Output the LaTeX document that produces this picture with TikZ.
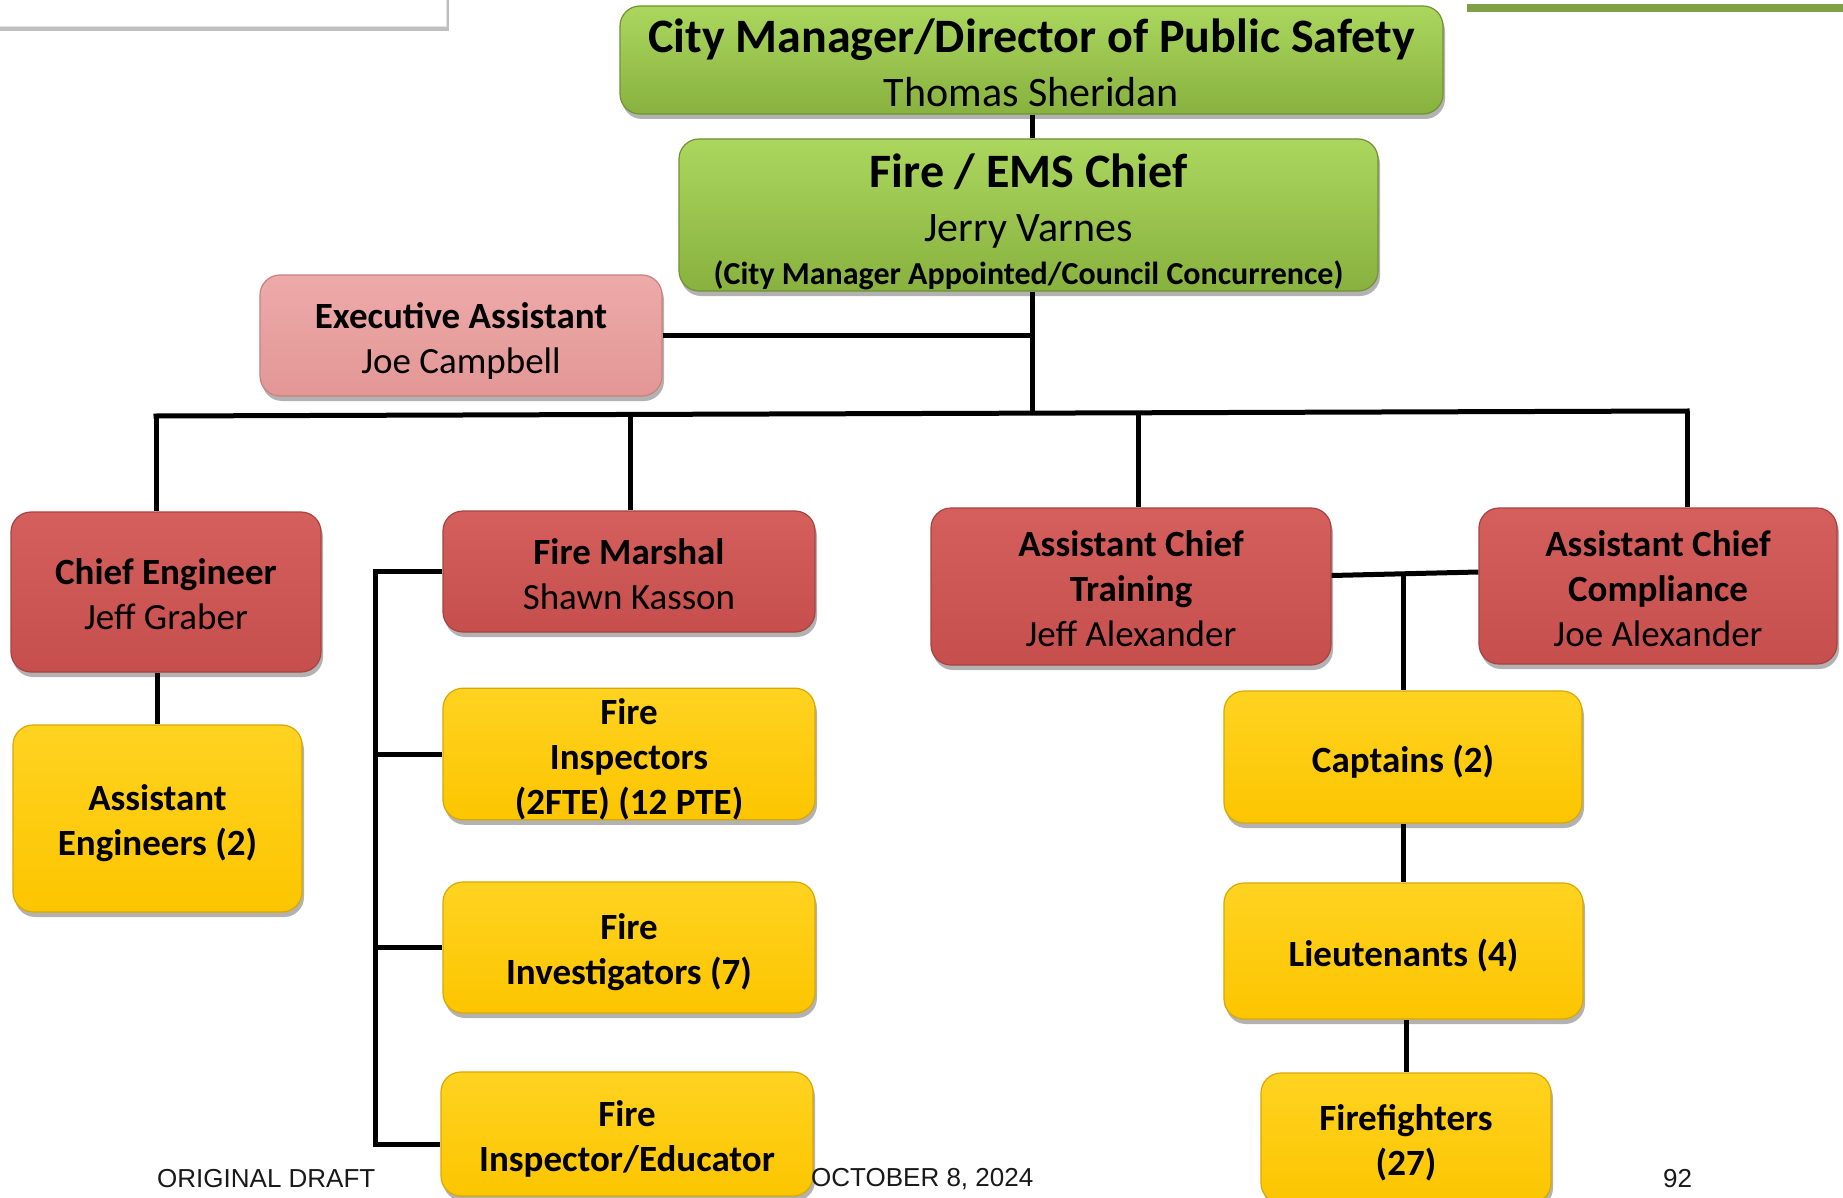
\documentclass[tikz,border=0pt]{standalone}
\usepackage{fontspec}
\setmainfont{Carlito}
\newfontfamily\footfont{Liberation Sans}
\usetikzlibrary{shadows}
\definecolor{grnT}{HTML}{ABD75E}
\definecolor{grnB}{HTML}{88B13F}
\definecolor{grnD}{HTML}{6F9332}
\definecolor{redT}{HTML}{D45F5C}
\definecolor{redB}{HTML}{C64F4D}
\definecolor{redD}{HTML}{A84240}
\definecolor{pnkT}{HTML}{EDAAA9}
\definecolor{pnkB}{HTML}{E29795}
\definecolor{pnkD}{HTML}{C98180}
\definecolor{yelT}{HTML}{FFD321}
\definecolor{yelB}{HTML}{FCC500}
\definecolor{yelD}{HTML}{D9A800}
\definecolor{barG}{HTML}{7FA046}
\newcommand{\ystrut}{\rule{0pt}{36pt}}
\newcommand{\rstrut}{\rule{0pt}{31pt}}
\tikzset{
  box/.style={rectangle, rounded corners=20pt, line width=1.2pt, align=center, inner sep=0pt,
    drop shadow={shadow xshift=2pt, shadow yshift=-5pt, fill=black, opacity=0.3}},
  gbox/.style={box, draw=grnD, top color=grnT, bottom color=grnB, font=\fontsize{48}{54}\selectfont},
  rbox/.style={box, draw=redD, top color=redT, bottom color=redB, font=\fontsize{37}{45}\selectfont},
  pbox/.style={box, draw=pnkD, top color=pnkT, bottom color=pnkB, font=\fontsize{37}{45}\selectfont},
  ybox/.style={box, draw=yelD, top color=yelT, bottom color=yelB, font=\fontsize{37}{45}\selectfont\bfseries},
  wire/.style={line width=5pt, black},
  foot/.style={font=\footfont\fontsize{26}{30}\selectfont, text=black!90, inner sep=0pt, anchor=west}
}
\begin{document}
\begin{tikzpicture}[x=1pt, y=-1pt]
\useasboundingbox (0,0) rectangle (1843,1198);
\clip (0,0) rectangle (1843,1198);
\fill[white] (0,0) rectangle (1843,1198);

% top-left panel and green bar
\node[rectangle, draw=black!12, fill=white, minimum width=466pt, minimum height=46pt, inner sep=0pt,
  drop shadow={shadow xshift=3pt, shadow yshift=-5pt, fill=black, opacity=0.25}] (panel) at (213,3) {};
\fill[barG] (1467,4) rectangle (1843,12);

% boxes
\node[gbox, minimum width=823pt, minimum height=108pt] (cm) at (1031.5,60)
  {\rule{0pt}{40pt}\textbf{City Manager/Director of Public Safety}\\
   {\fontsize{42}{54}\selectfont Thomas Sheridan}};
\node[gbox, minimum width=699pt, minimum height=152pt] (chief) at (1028.5,215)
  {\rule{0pt}{47pt}\textbf{Fire / EMS Chief}\\
   {\fontsize{42}{54}\selectfont Jerry Varnes}\\[-11pt]
   {\fontsize{32}{43}\selectfont\bfseries (City Manager Appointed/Council Concurrence)}};
\node[pbox, minimum width=402pt, minimum height=121pt] (exec) at (461,335.5)
  {\ystrut\textbf{Executive Assistant}\\Joe Campbell};
\node[rbox, minimum width=310pt, minimum height=160pt] (ce) at (166,592)
  {\rstrut\textbf{Chief Engineer}\\Jeff Graber};
\node[rbox, minimum width=372pt, minimum height=121pt] (fm) at (629,571.5)
  {\rstrut\textbf{Fire Marshal}\\Shawn Kasson};
\node[rbox, minimum width=400pt, minimum height=157pt] (act) at (1131,586.5)
  {\rstrut\textbf{Assistant Chief}\\\textbf{Training}\\Jeff Alexander};
\node[rbox, minimum width=358pt, minimum height=156pt] (acc) at (1658,586)
  {\rstrut\textbf{Assistant Chief}\\\textbf{Compliance}\\Joe Alexander};
\node[ybox, minimum width=289pt, minimum height=187pt] (ae) at (157.5,818.5)
  {\ystrut Assistant\\Engineers (2)};
\node[ybox, minimum width=372pt, minimum height=126pt] (fi) at (629,754)
  {\ystrut Fire\\Inspectors\\(2FTE) (12 PTE)};
\node[ybox, minimum width=372pt, minimum height=131pt] (finv) at (629,947.5)
  {\ystrut Fire\\Investigators (7)};
\node[ybox, minimum width=372pt, minimum height=124pt] (fie) at (627,1134)
  {\ystrut Fire\\Inspector/Educator};
\node[ybox, minimum width=358pt, minimum height=132pt] (cap) at (1403,757)
  {\ystrut Captains (2)};
\node[ybox, minimum width=359pt, minimum height=136pt] (lt) at (1403.5,951)
  {\ystrut Lieutenants (4)};
\node[ybox, minimum width=290pt, minimum height=130pt] (ff) at (1406,1138)
  {\ystrut Firefighters\\(27)};

% connectors
\coordinate (busL) at (156,416);
\coordinate (busR) at (1687,411);
\coordinate (jfm) at (630,414.5);
\coordinate (jmid) at (1032,413);
\coordinate (jact) at (1138,412.6);
\coordinate (spine) at (375,1144);
\coordinate (jtr) at (1403,575);

\draw[wire] (cm.south -| jmid) -- (chief.north -| jmid);
\draw[wire] (chief.south -| jmid) -- (jmid);
\draw[wire] (exec.east) -- (exec.east -| jmid);
\draw[wire, line cap=rect] (busL) -- (busR);
\draw[wire] (busL) -- (busL |- ce.north);
\draw[wire] (jfm) -- (jfm |- fm.north);
\draw[wire] (jact) -- (jact |- act.north);
\draw[wire] (busR) -- (busR |- acc.north);
\draw[wire] (ce.south -| ae.north) -- (ae.north);
\draw[wire] (fm.west) -| (spine) -- (spine -| fie.west);
\draw[wire] (fi.west -| spine) -- (fi.west);
\draw[wire] (finv.west -| spine) -- (finv.west);
\draw[wire] ([yshift=11pt]act.east) -- ([yshift=14pt]acc.west);
\draw[wire] (jtr) -- (jtr |- cap.north);
\draw[wire] (cap.south) -- (cap.south |- lt.north);
\draw[wire] (lt.south -| ff.north) -- (ff.north);

% footer
\node[foot] (f1) at (157,1179) {ORIGINAL DRAFT};
\node[foot] (f2) at (811,1179) {OCTOBER 8, 2024};
\node[foot] (f3) at (1663,1179) {92};
\end{tikzpicture}
\end{document}
